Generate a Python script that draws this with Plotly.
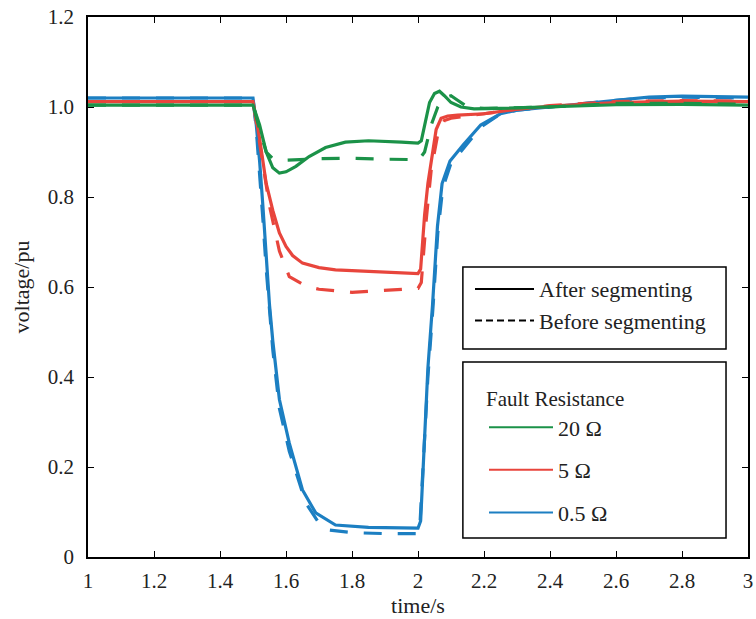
import plotly.graph_objects as go

# ---- data ----
t_g_after = [1.0, 1.5, 1.52, 1.54, 1.56, 1.58, 1.60, 1.63, 1.67, 1.72, 1.78, 1.85, 1.95, 2.0, 2.01, 2.02, 2.035, 2.05, 2.065, 2.08, 2.1, 2.13, 2.17, 2.25, 2.4, 2.6, 2.8, 3.0]
v_g_after = [1.004, 1.004, 0.96, 0.90, 0.865, 0.853, 0.856, 0.868, 0.89, 0.91, 0.922, 0.925, 0.922, 0.920, 0.925, 0.96, 1.01, 1.03, 1.035, 1.025, 1.01, 1.0, 0.996, 0.997, 1.0, 1.005, 1.006, 1.004]

t_g_before = [1.0, 1.5, 1.52, 1.54, 1.56, 1.6, 1.7, 1.8, 1.9, 2.0, 2.005, 2.02, 2.04, 2.06, 2.08, 2.1, 2.12, 2.15, 2.2, 2.4, 2.6, 2.8, 3.0]
v_g_before = [1.004, 1.004, 0.95, 0.90, 0.885, 0.882, 0.885, 0.886, 0.884, 0.883, 0.885, 0.90, 0.96, 1.0, 1.02, 1.025, 1.015, 1.0, 0.997, 1.0, 1.008, 1.008, 1.006]

t_r_after = [1.0, 1.5, 1.52, 1.54, 1.56, 1.58, 1.60, 1.62, 1.65, 1.7, 1.75, 1.85, 1.95, 2.0, 2.008, 2.02, 2.03, 2.04, 2.055, 2.07, 2.09, 2.12, 2.16, 2.2, 2.3, 2.4, 2.6, 2.8, 3.0]
v_r_after = [1.012, 1.012, 0.93, 0.83, 0.77, 0.72, 0.69, 0.67, 0.653, 0.643, 0.638, 0.635, 0.632, 0.63, 0.64, 0.76, 0.83, 0.88, 0.95, 0.975, 0.98, 0.982, 0.983, 0.985, 0.995, 1.002, 1.01, 1.013, 1.012]

t_r_before = [1.0, 1.5, 1.52, 1.55, 1.58, 1.61, 1.66, 1.7, 1.8, 1.9, 2.0, 2.01, 2.025, 2.04, 2.06, 2.08, 2.1, 2.15, 2.2, 2.3, 2.4, 2.6, 2.8, 3.0]
v_r_before = [1.012, 1.012, 0.92, 0.78, 0.68, 0.623, 0.602, 0.595, 0.588, 0.592, 0.597, 0.61, 0.75, 0.86, 0.94, 0.97, 0.975, 0.98, 0.985, 0.995, 1.003, 1.012, 1.014, 1.013]

t_b_after = [1.0, 1.5, 1.51, 1.52, 1.53, 1.54, 1.55, 1.56, 1.58, 1.61, 1.65, 1.69, 1.75, 1.85, 2.0, 2.008, 2.02, 2.03, 2.044, 2.059, 2.073, 2.097, 2.136, 2.19, 2.25, 2.3, 2.4, 2.5, 2.6, 2.7, 2.8, 3.0]
v_b_after = [1.02, 1.02, 0.96, 0.88, 0.78, 0.67, 0.56, 0.48, 0.35, 0.253, 0.149, 0.098, 0.071, 0.066, 0.064, 0.08, 0.27, 0.42, 0.56, 0.735, 0.83, 0.88, 0.915, 0.96, 0.985, 0.993, 1.0, 1.008, 1.015, 1.022, 1.024, 1.022]

t_b_before = [1.0, 1.5, 1.51, 1.52, 1.53, 1.54, 1.55, 1.56, 1.58, 1.61, 1.66, 1.7, 1.73, 1.8, 1.9, 2.0, 2.005, 2.02, 2.03, 2.045, 2.06, 2.075, 2.1, 2.14, 2.19, 2.25, 2.3, 2.4, 2.5, 2.6, 2.7, 2.8, 3.0]
v_b_before = [1.02, 1.02, 0.95, 0.86, 0.75, 0.64, 0.54, 0.46, 0.33, 0.235, 0.12, 0.075, 0.06, 0.054, 0.052, 0.052, 0.06, 0.25, 0.40, 0.55, 0.72, 0.82, 0.875, 0.91, 0.955, 0.985, 0.993, 1.0, 1.008, 1.015, 1.02, 1.022, 1.02]

x_tickvals = [1, 1.2, 1.4, 1.6, 1.8, 2, 2.2, 2.4, 2.6, 2.8, 3]
x_ticktext = ["1", "1.2", "1.4", "1.6", "1.8", "2", "2.2", "2.4", "2.6", "2.8", "3"]
y_tickvals = [0, 0.2, 0.4, 0.6, 0.8, 1.0, 1.2]
y_ticktext = ["0", "0.2", "0.4", "0.6", "0.8", "1.0", "1.2"]

style_names = ["After segmenting", "Before segmenting"]
resist_names = ["20 Ω", "5 Ω", "0.5 Ω"]

GREEN = "#1b9248"
RED = "#e8453c"
BLUE = "#1c7fc2"
DASH = "18px,16px"
FONT = "Liberation Serif, Times New Roman, serif"
TXT = "#222"

fig = go.Figure()

series = [
    (t_b_before, v_b_before, BLUE, DASH),
    (t_b_after, v_b_after, BLUE, "solid"),
    (t_r_before, v_r_before, RED, DASH),
    (t_r_after, v_r_after, RED, "solid"),
    (t_g_before, v_g_before, GREEN, DASH),
    (t_g_after, v_g_after, GREEN, "solid"),
]
for tx, vy, c, d in series:
    fig.add_trace(go.Scatter(x=tx, y=vy, mode="lines", showlegend=False,
                             line=dict(color=c, width=3.2, dash=d)))

# legend entries: line styles
for name, d in zip(style_names, ["solid", "7px,4px"]):
    fig.add_trace(go.Scatter(x=[None], y=[None], mode="lines", name=name,
                             line=dict(color="black", width=2, dash=d),
                             legend="legend", legendgroup=name))
# legend entries: fault resistances
for name, c in zip(resist_names, [GREEN, RED, BLUE]):
    fig.add_trace(go.Scatter(x=[None], y=[None], mode="lines", name=name,
                             line=dict(color=c, width=2),
                             legend="legend2", legendgroup=name))

axis_common = dict(showline=True, linecolor="black", linewidth=1.5, mirror="ticks",
                   ticks="inside", ticklen=6, tickcolor="black", tickwidth=1.2,
                   showgrid=False, zeroline=False, automargin=False,
                   ticklabeloverflow="allow",
                   tickfont=dict(family=FONT, size=21, color=TXT))

# legend frames (plot-area fractions)
frames = [
    (0.568, 0.385, 0.9667, 0.537),
    (0.568, 0.0352, 0.9667, 0.361),
]
for x0, y0, x1, y1 in frames:
    fig.add_shape(type="rect", xref="paper", yref="paper", x0=x0, y0=y0, x1=x1, y1=y1,
                  line=dict(color="black", width=1.5), fillcolor="white", layer="above")

fig.update_layout(
    width=756, height=619,
    margin=dict(l=88, r=8, t=17, b=62, autoexpand=False),
    paper_bgcolor="white", plot_bgcolor="white",
    font=dict(family=FONT, color=TXT),
    xaxis=dict(range=[1, 3], tickvals=x_tickvals, ticktext=x_ticktext,
               ticklabelstandoff=4,
               title=dict(text="time/s", font=dict(family=FONT, size=22), standoff=4),
               **axis_common),
    yaxis=dict(range=[0, 1.2], tickvals=y_tickvals, ticktext=y_ticktext,
               ticklabelstandoff=8,
               title=dict(text="voltage/pu", font=dict(family=FONT, size=22), standoff=12),
               **axis_common),
    legend=dict(x=0.5788, y=0.535, xanchor="left", yanchor="top",
                borderwidth=0, bgcolor="rgba(0,0,0,0)",
                font=dict(family=FONT, size=22, color=TXT),
                traceorder="grouped", tracegroupgap=0, itemwidth=59),
    legend2=dict(x=0.6, y=0.3294, xanchor="left", yanchor="top",
                 borderwidth=0, bgcolor="rgba(0,0,0,0)",
                 font=dict(family=FONT, size=22, color=TXT),
                 title=dict(text="Fault Resistance", font=dict(family=FONT, size=21)),
                 traceorder="grouped", tracegroupgap=11, itemwidth=64),
)

# remove the default page margin so the 756x619 figure fills the window exactly
fig.write_html("out.html",
               config={"displayModeBar": False},
               post_script="document.body.style.margin='0';document.body.style.overflow='hidden';")
